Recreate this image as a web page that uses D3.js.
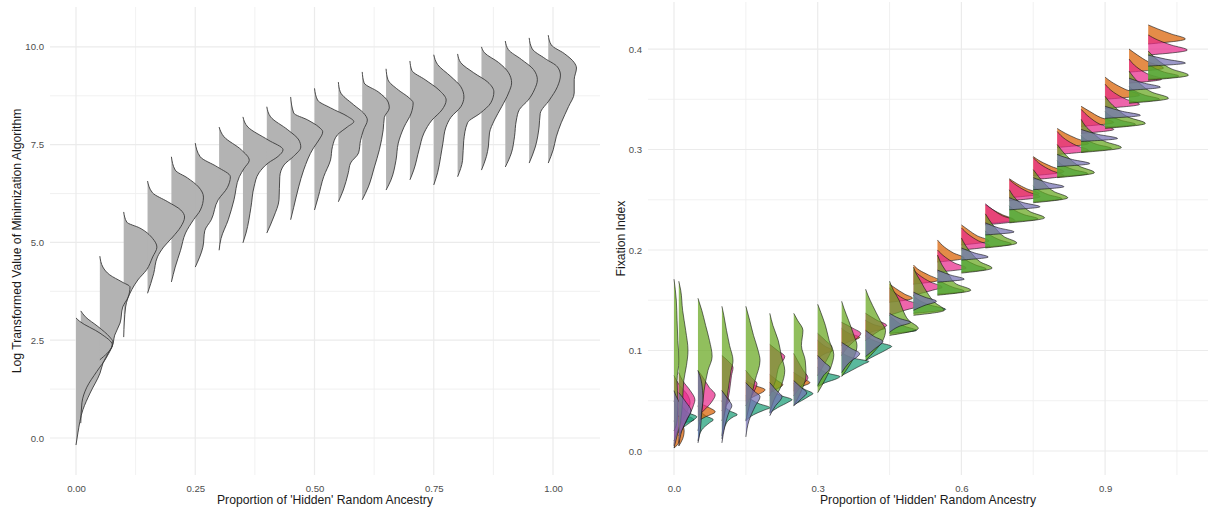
<!DOCTYPE html>
<html>
<head>
<meta charset="utf-8">
<script src="https://cdn.jsdelivr.net/npm/d3@7"></script>
<style>
body { margin: 0; background: #fff; }
text { font-family: "Liberation Sans", Arial, sans-serif; }
</style>
</head>
<body>
<script>

// proportion of 'hidden' random ancestry (shared by both panels)
var ancestry = [0, 0.01, 0.05, 0.10, 0.15, 0.20, 0.25, 0.30, 0.35, 0.40, 0.45,
                0.50, 0.55, 0.60, 0.65, 0.70, 0.75, 0.80, 0.85, 0.90, 0.95, 0.99];

// left panel: density profiles [log value, relative density]
var logProfiles = [
  [[-0.18,0],[0.13,0.05],[0.72,0.18],[1.15,0.37],[1.66,0.63],[1.92,0.71],[2.2,0.86],[2.38,0.95],[2.68,0.63],[2.98,0.1],[3.07,0]],
  [[0.38,0],[0.9,0.03],[1.3,0.16],[1.7,0.42],[2.07,0.68],[2.46,0.84],[2.58,0.76],[2.85,0.45],[3.1,0.12],[3.25,0]],
  [[2.0,0],[2.33,0.32],[2.63,0.39],[2.94,0.53],[3.35,0.6],[3.6,0.74],[3.86,0.79],[3.99,0.58],[4.17,0.26],[4.37,0.08],[4.65,0]],
  [[2.58,0],[3.35,0.05],[3.79,0.21],[4.04,0.37],[4.3,0.6],[4.63,0.76],[4.88,0.87],[5.1,0.76],[5.37,0.42],[5.52,0.08],[5.78,0]],
  [[3.7,0],[4.2,0.16],[4.63,0.26],[4.88,0.42],[5.14,0.66],[5.4,0.87],[5.65,0.97],[5.83,0.87],[6.04,0.53],[6.27,0.13],[6.57,0]],
  [[3.99,0],[4.37,0.1],[4.8,0.24],[5.24,0.37],[5.58,0.58],[5.83,0.76],[6.16,0.84],[6.42,0.71],[6.65,0.42],[6.85,0.1],[7.19,0]],
  [[4.37,0],[4.88,0.2],[5.3,0.25],[5.58,0.42],[6.09,0.6],[6.4,0.84],[6.68,0.92],[6.93,0.58],[7.19,0.13],[7.54,0]],
  [[4.8,0],[5.1,0.05],[5.58,0.24],[6.09,0.39],[6.68,0.53],[6.9,0.66],[7.1,0.79],[7.37,0.58],[7.7,0.13],[7.95,0]],
  [[4.99,0],[5.24,0.08],[5.9,0.21],[6.42,0.29],[6.78,0.42],[7.03,0.66],[7.2,0.92],[7.37,1.05],[7.62,0.66],[7.95,0.13],[8.21,0]],
  [[5.24,0],[5.65,0.18],[6.09,0.32],[6.68,0.34],[6.98,0.45],[7.2,0.7],[7.44,0.89],[7.62,0.84],[7.88,0.55],[8.21,0.1],[8.47,0]],
  [[5.58,0],[5.9,0.08],[6.42,0.21],[6.85,0.34],[7.42,0.6],[7.62,0.74],[7.83,0.84],[7.95,0.74],[8.13,0.45],[8.31,0.08],[8.72,0]],
  [[5.83,0],[6.17,0.1],[6.68,0.24],[7.11,0.42],[7.45,0.47],[7.75,0.6],[7.96,0.87],[8.09,1.03],[8.22,0.87],[8.44,0.42],[8.64,0.08],[8.94,0]],
  [[6.04,0],[6.34,0.13],[6.78,0.26],[7.03,0.32],[7.29,0.53],[7.6,0.58],[7.88,0.66],[8.13,0.76],[8.31,0.66],[8.52,0.4],[8.85,0.05],[9.1,0]],
  [[6.09,0],[6.42,0.16],[6.93,0.32],[7.37,0.45],[7.88,0.55],[8.2,0.58],[8.44,0.71],[8.59,0.68],[8.85,0.42],[9.08,0.05],[9.36,0]],
  [[6.34,0],[6.6,0.13],[7.1,0.26],[7.54,0.32],[7.95,0.47],[8.31,0.66],[8.57,0.71],[8.7,0.6],[8.9,0.32],[9.16,0.05],[9.44,0]],
  [[6.6,0],[6.85,0.1],[7.37,0.24],[7.8,0.37],[8.13,0.58],[8.39,0.84],[8.64,0.95],[8.9,0.76],[9.16,0.4],[9.4,0.05],[9.64,0]],
  [[6.47,0],[6.78,0.1],[7.19,0.18],[7.54,0.24],[7.95,0.32],[8.2,0.45],[8.47,0.71],[8.72,0.79],[8.98,0.71],[9.24,0.45],[9.55,0.1],[9.8,0]],
  [[6.68,0],[7.1,0.13],[7.6,0.16],[8.06,0.26],[8.31,0.6],[8.57,0.87],[8.85,0.95],[9.1,0.79],[9.34,0.42],[9.6,0.08],[9.82,0]],
  [[6.85,0],[7.2,0.13],[7.44,0.18],[7.8,0.21],[8.13,0.34],[8.47,0.53],[8.82,0.71],[9.08,0.79],[9.34,0.71],[9.6,0.45],[9.85,0.08],[10.0,0]],
  [[6.93,0],[7.29,0.16],[7.7,0.24],[8.13,0.29],[8.4,0.37],[8.64,0.6],[8.9,0.76],[9.16,0.84],[9.42,0.74],[9.68,0.42],[9.93,0.08],[10.15,0]],
  [[7.03,0],[7.44,0.16],[7.95,0.26],[8.3,0.29],[8.64,0.53],[8.98,0.74],[9.28,0.82],[9.49,0.74],[9.7,0.42],[9.95,0.08],[10.23,0]],
  [[7.03,0],[7.37,0.13],[7.7,0.21],[8.06,0.34],[8.47,0.53],[8.82,0.68],[9.16,0.68],[9.46,0.74],[9.6,0.68],[9.83,0.42],[10.05,0.08],[10.3,0]]
];

// right panel: fixation index profiles [Fst, relative density], one list per group
var fstOrange = [
  [[0.003,0],[0.008,0.12],[0.015,0.15],[0.022,0.1],[0.03,0]],
  [[0.005,0],[0.012,0.1],[0.02,0.14],[0.028,0.08],[0.035,0]],
  [[0.03,0],[0.034,0.2],[0.039,0.45],[0.043,0.3],[0.048,0]],
  [[0.04,0],[0.046,0.12],[0.05,0.2],[0.055,0.1],[0.06,0]],
  [[0.05,0],[0.054,0.2],[0.061,0.5],[0.065,0.25],[0.07,0]],
  [[0.058,0],[0.062,0.2],[0.066,0.34],[0.07,0.2],[0.076,0]],
  [[0.06,0],[0.064,0.2],[0.068,0.42],[0.072,0.25],[0.078,0]],
  [[0.092,0],[0.097,0.2],[0.1,0.39],[0.104,0.2],[0.11,0]],
  [[0.105,0],[0.109,0.2],[0.113,0.47],[0.117,0.2],[0.122,0]],
  [[0.115,0],[0.119,0.2],[0.122,0.5],[0.126,0.2],[0.13,0]],
  [[0.148,0],[0.152,0.6],[0.156,0.4],[0.162,0.15],[0.166,0]],
  [[0.166,0],[0.17,0.65],[0.175,0.4],[0.18,0.15],[0.185,0]],
  [[0.188,0],[0.192,0.7],[0.197,0.42],[0.203,0.18],[0.21,0]],
  [[0.205,0],[0.209,0.72],[0.214,0.42],[0.22,0.18],[0.225,0]],
  [[0.226,0],[0.23,0.75],[0.235,0.45],[0.24,0.2],[0.245,0]],
  [[0.252,0],[0.256,0.78],[0.261,0.45],[0.266,0.2],[0.271,0]],
  [[0.274,0],[0.278,0.8],[0.283,0.48],[0.288,0.2],[0.293,0]],
  [[0.302,0],[0.306,0.82],[0.311,0.5],[0.316,0.22],[0.321,0]],
  [[0.323,0],[0.327,0.85],[0.332,0.5],[0.338,0.22],[0.343,0]],
  [[0.35,0],[0.354,0.9],[0.36,0.52],[0.366,0.22],[0.372,0]],
  [[0.377,0],[0.381,0.9],[0.387,0.52],[0.394,0.22],[0.4,0]],
  [[0.405,0],[0.41,0.97],[0.415,0.6],[0.42,0.25],[0.424,0]]
];
var fstPink = [
  [[0.01,0],[0.025,0.15],[0.04,0.35],[0.048,0.42],[0.056,0.35],[0.065,0.15],[0.075,0]],
  [[0.015,0],[0.03,0.2],[0.045,0.38],[0.051,0.42],[0.06,0.3],[0.07,0.1],[0.078,0]],
  [[0.035,0],[0.042,0.2],[0.05,0.38],[0.056,0.45],[0.063,0.3],[0.075,0.1],[0.08,0]],
  [[0.03,0],[0.045,0.12],[0.06,0.2],[0.075,0.25],[0.083,0.29],[0.09,0.15],[0.095,0]],
  [[0.045,0],[0.055,0.15],[0.062,0.25],[0.067,0.29],[0.073,0.15],[0.08,0]],
  [[0.055,0],[0.07,0.15],[0.085,0.25],[0.094,0.39],[0.1,0.2],[0.106,0]],
  [[0.055,0],[0.065,0.2],[0.073,0.37],[0.08,0.25],[0.09,0.1],[0.097,0]],
  [[0.075,0],[0.085,0.15],[0.095,0.3],[0.103,0.37],[0.11,0.2],[0.117,0]],
  [[0.095,0],[0.105,0.2],[0.112,0.4],[0.117,0.5],[0.122,0.3],[0.128,0]],
  [[0.11,0],[0.117,0.25],[0.122,0.45],[0.125,0.55],[0.13,0.3],[0.137,0]],
  [[0.135,0],[0.14,0.4],[0.145,0.8],[0.15,0.45],[0.157,0.15],[0.162,0]],
  [[0.155,0],[0.16,0.5],[0.163,0.75],[0.168,0.45],[0.175,0.15],[0.18,0]],
  [[0.178,0],[0.182,0.75],[0.187,0.45],[0.193,0.2],[0.2,0]],
  [[0.2,0],[0.204,0.75],[0.209,0.45],[0.215,0.2],[0.222,0]],
  [[0.225,0],[0.229,0.78],[0.234,0.45],[0.24,0.2],[0.246,0]],
  [[0.249,0],[0.253,0.8],[0.258,0.48],[0.264,0.2],[0.27,0]],
  [[0.27,0],[0.274,0.8],[0.279,0.48],[0.285,0.2],[0.292,0]],
  [[0.295,0],[0.299,0.82],[0.304,0.5],[0.31,0.22],[0.318,0]],
  [[0.316,0],[0.32,0.85],[0.325,0.5],[0.332,0.22],[0.34,0]],
  [[0.341,0],[0.345,0.9],[0.35,0.55],[0.357,0.22],[0.365,0]],
  [[0.366,0],[0.37,0.85],[0.375,0.5],[0.382,0.2],[0.39,0]],
  [[0.394,0],[0.399,1.02],[0.404,0.6],[0.409,0.25],[0.414,0]]
];
var fstGreen = [
  [[0.02,0],[0.03,0.08],[0.05,0.1],[0.07,0.08],[0.09,0.13],[0.11,0.1],[0.13,0.08],[0.15,0.06],[0.171,0]],
  [[0.018,0],[0.03,0.05],[0.05,0.1],[0.07,0.13],[0.085,0.2],[0.1,0.24],[0.12,0.18],[0.14,0.1],[0.16,0.05],[0.169,0]],
  [[0.02,0],[0.04,0.1],[0.06,0.16],[0.08,0.26],[0.094,0.37],[0.11,0.3],[0.125,0.2],[0.14,0.1],[0.152,0]],
  [[0.015,0],[0.04,0.08],[0.06,0.16],[0.08,0.24],[0.09,0.29],[0.105,0.2],[0.12,0.12],[0.135,0.05],[0.144,0]],
  [[0.03,0],[0.05,0.12],[0.07,0.24],[0.09,0.37],[0.1,0.32],[0.115,0.2],[0.13,0.1],[0.144,0]],
  [[0.038,0],[0.05,0.1],[0.065,0.3],[0.08,0.39],[0.095,0.3],[0.11,0.22],[0.125,0.08],[0.137,0]],
  [[0.045,0],[0.06,0.2],[0.075,0.32],[0.09,0.3],[0.105,0.2],[0.12,0.24],[0.13,0.1],[0.137,0]],
  [[0.058,0],[0.07,0.18],[0.085,0.36],[0.096,0.42],[0.11,0.3],[0.125,0.2],[0.138,0.08],[0.146,0]],
  [[0.074,0],[0.085,0.2],[0.095,0.34],[0.105,0.4],[0.115,0.32],[0.13,0.18],[0.142,0.06],[0.149,0]],
  [[0.09,0],[0.1,0.25],[0.11,0.45],[0.12,0.52],[0.13,0.38],[0.145,0.18],[0.155,0.06],[0.161,0]],
  [[0.115,0],[0.122,0.75],[0.13,0.5],[0.14,0.35],[0.15,0.25],[0.16,0.1],[0.169,0]],
  [[0.135,0],[0.14,0.8],[0.148,0.55],[0.158,0.35],[0.168,0.2],[0.178,0.05],[0.183,0]],
  [[0.155,0],[0.16,0.87],[0.166,0.5],[0.175,0.3],[0.185,0.12],[0.195,0]],
  [[0.177,0],[0.182,0.8],[0.188,0.5],[0.196,0.28],[0.205,0.1],[0.212,0]],
  [[0.202,0],[0.207,0.82],[0.213,0.5],[0.221,0.28],[0.23,0.1],[0.236,0]],
  [[0.227,0],[0.232,0.92],[0.238,0.55],[0.246,0.3],[0.254,0.1],[0.26,0]],
  [[0.247,0],[0.252,0.9],[0.258,0.55],[0.266,0.3],[0.275,0.1],[0.28,0]],
  [[0.272,0],[0.277,0.97],[0.283,0.6],[0.291,0.32],[0.3,0.1],[0.305,0]],
  [[0.297,0],[0.302,1.05],[0.308,0.62],[0.316,0.32],[0.324,0.1],[0.33,0]],
  [[0.321,0],[0.326,1.05],[0.332,0.62],[0.34,0.32],[0.348,0.1],[0.353,0]],
  [[0.346,0],[0.351,1.03],[0.357,0.6],[0.365,0.3],[0.373,0.1],[0.378,0]],
  [[0.369,0],[0.374,1.05],[0.38,0.62],[0.387,0.32],[0.394,0.1],[0.398,0]]
];
var fstPurple = [
  [[0.003,0],[0.015,0.08],[0.03,0.2],[0.038,0.32],[0.045,0.2],[0.055,0.05],[0.06,0]],
  [[0.005,0],[0.02,0.08],[0.032,0.22],[0.04,0.32],[0.048,0.2],[0.058,0]],
  [[0.008,0],[0.02,0.06],[0.04,0.1],[0.05,0.13],[0.06,0.12],[0.075,0.05],[0.08,0]],
  [[0.008,0],[0.025,0.08],[0.04,0.2],[0.045,0.26],[0.052,0.15],[0.06,0]],
  [[0.014,0],[0.03,0.08],[0.045,0.25],[0.054,0.37],[0.06,0.2],[0.068,0]],
  [[0.035,0],[0.045,0.15],[0.052,0.3],[0.054,0.32],[0.06,0.18],[0.068,0]],
  [[0.045,0],[0.052,0.2],[0.058,0.34],[0.063,0.2],[0.07,0]],
  [[0.065,0],[0.075,0.15],[0.083,0.32],[0.088,0.18],[0.095,0]],
  [[0.078,0],[0.088,0.2],[0.097,0.47],[0.102,0.25],[0.108,0]],
  [[0.094,0],[0.102,0.25],[0.109,0.45],[0.114,0.22],[0.12,0]],
  [[0.118,0],[0.124,0.25],[0.128,0.55],[0.132,0.25],[0.137,0]],
  [[0.14,0],[0.145,0.3],[0.149,0.6],[0.153,0.3],[0.158,0]],
  [[0.168,0],[0.171,0.7],[0.175,0.35],[0.18,0]],
  [[0.19,0],[0.193,0.7],[0.197,0.35],[0.202,0]],
  [[0.215,0],[0.218,0.75],[0.222,0.35],[0.227,0]],
  [[0.24,0],[0.243,0.8],[0.247,0.38],[0.252,0]],
  [[0.26,0],[0.263,0.8],[0.267,0.38],[0.272,0]],
  [[0.283,0],[0.286,0.85],[0.29,0.4],[0.295,0]],
  [[0.308,0],[0.311,0.95],[0.315,0.45],[0.32,0]],
  [[0.331,0],[0.334,0.92],[0.338,0.45],[0.343,0]],
  [[0.359,0],[0.362,0.82],[0.366,0.4],[0.371,0]],
  [[0.383,0],[0.386,0.97],[0.39,0.45],[0.394,0]]
];
var fstTeal = [
  [[0.005,0],[0.02,0.05],[0.028,0.3],[0.031,0.52],[0.036,0.3],[0.045,0.05],[0.05,0]],
  [[0.008,0],[0.02,0.05],[0.03,0.35],[0.034,0.47],[0.038,0.25],[0.05,0]],
  [[0.01,0],[0.021,0.1],[0.028,0.3],[0.031,0.4],[0.035,0.2],[0.045,0]],
  [[0.012,0],[0.028,0.12],[0.034,0.3],[0.036,0.4],[0.04,0.2],[0.05,0]],
  [[0.03,0],[0.036,0.2],[0.041,0.5],[0.043,0.63],[0.047,0.35],[0.055,0]],
  [[0.038,0],[0.043,0.2],[0.049,0.5],[0.051,0.58],[0.055,0.3],[0.062,0]],
  [[0.046,0],[0.05,0.2],[0.055,0.42],[0.057,0.5],[0.061,0.3],[0.067,0]],
  [[0.064,0],[0.068,0.2],[0.072,0.5],[0.074,0.58],[0.077,0.3],[0.083,0]],
  [[0.075,0],[0.08,0.25],[0.087,0.6],[0.089,0.71],[0.092,0.35],[0.098,0]],
  [[0.09,0],[0.095,0.25],[0.102,0.6],[0.104,0.68],[0.108,0.35],[0.114,0]],
  [[0.117,0],[0.12,0.7],[0.124,0.4],[0.13,0.15],[0.135,0]],
  [[0.137,0],[0.141,0.84],[0.145,0.45],[0.15,0.15],[0.155,0]],
  [[0.156,0],[0.159,0.7],[0.163,0.4],[0.168,0.12],[0.172,0]],
  [[0.178,0],[0.181,0.65],[0.185,0.38],[0.19,0.12],[0.194,0]],
  [[0.203,0],[0.206,0.68],[0.21,0.38],[0.215,0.12],[0.219,0]],
  [[0.228,0],[0.231,0.75],[0.235,0.4],[0.24,0.12],[0.244,0]],
  [[0.248,0],[0.251,0.75],[0.255,0.4],[0.26,0.12],[0.264,0]],
  [[0.273,0],[0.276,0.8],[0.28,0.42],[0.285,0.12],[0.289,0]],
  [[0.298,0],[0.301,0.8],[0.305,0.42],[0.31,0.12],[0.314,0]],
  [[0.322,0],[0.325,0.8],[0.329,0.42],[0.334,0.12],[0.338,0]],
  [[0.347,0],[0.35,0.8],[0.354,0.42],[0.359,0.12],[0.363,0]],
  [[0.37,0],[0.373,0.8],[0.377,0.42],[0.382,0.12],[0.386,0]]
];

// draw order and colours of the right-hand groups
var groups = [
  {values: fstTeal,   color: "#1B9E77"},
  {values: fstOrange, color: "#D95F02"},
  {values: fstPink,   color: "#E7298A"},
  {values: fstGreen,  color: "#66A61E"},
  {values: fstPurple, color: "#7570B3"}
];

var leftXTicks = [0, 0.25, 0.5, 0.75, 1],
    leftXMinor = [0.125, 0.375, 0.625, 0.875],
    leftYTicks = [0, 2.5, 5, 7.5, 10],
    leftYMinor = [1.25, 3.75, 6.25, 8.75];
var rightXTicks = [0, 0.3, 0.6, 0.9],
    rightXMinor = [0.15, 0.45, 0.75, 1.05],
    rightYTicks = [0, 0.1, 0.2, 0.3, 0.4],
    rightYMinor = [0.05, 0.15, 0.25, 0.35];

var xTitle = "Proportion of 'Hidden' Random Ancestry";

var width = 1217,
    height = 515;

var svg = d3.select("body").append("svg")
    .attr("width", width)
    .attr("height", height);

// half-width of a density of 1, in x units
var dens = d3.scaleLinear().domain([0, 1]).range([0, 0.08]);

function drawGrid(g, x, y, xMaj, xMin, yMaj, yMin) {
  var xr = x.range(), yr = y.range();
  g.selectAll(".hmin").data(yMin).enter().append("line")
      .attr("x1", xr[0]).attr("x2", xr[1])
      .attr("y1", function(d) { return y(d); }).attr("y2", function(d) { return y(d); })
      .attr("stroke", "#efefef").attr("stroke-width", 0.9);
  g.selectAll(".vmin").data(xMin).enter().append("line")
      .attr("y1", yr[0]).attr("y2", yr[1])
      .attr("x1", function(d) { return x(d); }).attr("x2", function(d) { return x(d); })
      .attr("stroke", "#efefef").attr("stroke-width", 0.9);
  g.selectAll(".hmaj").data(yMaj).enter().append("line")
      .attr("x1", xr[0]).attr("x2", xr[1])
      .attr("y1", function(d) { return y(d); }).attr("y2", function(d) { return y(d); })
      .attr("stroke", "#ebebeb").attr("stroke-width", 1.2);
  g.selectAll(".vmaj").data(xMaj).enter().append("line")
      .attr("y1", yr[0]).attr("y2", yr[1])
      .attr("x1", function(d) { return x(d); }).attr("x2", function(d) { return x(d); })
      .attr("stroke", "#ebebeb").attr("stroke-width", 1.2);
}

function drawAxes(g, x, y, xTicks, yTicks, xFmt, yFmt, yTitle, yTitleX) {
  var xr = x.range(), yr = y.range();
  var ax = g.append("g")
      .attr("transform", "translate(0," + yr[0] + ")")
      .call(d3.axisBottom(x).tickValues(xTicks).tickFormat(d3.format(xFmt)).tickSize(0).tickPadding(10));
  var ay = g.append("g")
      .attr("transform", "translate(" + xr[0] + ",0)")
      .call(d3.axisLeft(y).tickValues(yTicks).tickFormat(d3.format(yFmt)).tickSize(0).tickPadding(6));
  [ax, ay].forEach(function(a) {
    a.select(".domain").remove();
    a.selectAll("text").attr("fill", "#4d4d4d").style("font-size", "9.6px")
        .style("font-family", "'Liberation Sans', Arial, sans-serif");
  });
  g.append("text")
      .attr("x", (xr[0] + xr[1]) / 2).attr("y", 504)
      .attr("text-anchor", "middle").attr("fill", "#1a1a1a")
      .style("font-size", "12.2px")
      .text(xTitle);
  g.append("text")
      .attr("transform", "translate(" + yTitleX + "," + ((yr[0] + yr[1]) / 2) + ")rotate(-90)")
      .attr("text-anchor", "middle").attr("fill", "#1a1a1a")
      .style("font-size", "12.2px")
      .text(yTitle);
}

function slabFill(g, x, y, base, prof, fill, fillOp) {
  var pts = prof.slice().sort(function(a, b) { return b[0] - a[0]; });
  var area = d3.area().curve(d3.curveMonotoneY)
      .y(function(d) { return y(d[0]); })
      .x0(x(base))
      .x1(function(d) { return x(base + dens(d[1])); });
  g.append("path").attr("d", area(pts))
      .attr("fill", fill).attr("fill-opacity", fillOp).attr("stroke", "none");
}

function slabLine(g, x, y, base, prof, stroke, sw) {
  var pts = prof.slice().sort(function(a, b) { return b[0] - a[0]; });
  var line = d3.line().curve(d3.curveMonotoneY)
      .y(function(d) { return y(d[0]); })
      .x(function(d) { return x(base + dens(d[1])); });
  g.append("path").attr("d", line(pts))
      .attr("fill", "none").attr("stroke", stroke).attr("stroke-width", sw);
}

// ---- left panel
var xL = d3.scaleLinear().domain([-0.0545, 1.0985]).range([50, 600]);
var yL = d3.scaleLinear().domain([-0.946, 11.02]).range([475, 7]);
var gL = svg.append("g");
drawGrid(gL, xL, yL, leftXTicks, leftXMinor, leftYTicks, leftYMinor);
drawAxes(gL, xL, yL, leftXTicks, leftYTicks, ".2f", ".1f",
    "Log Transformed Value of Minimization Algorithm", 20.5);
// fills first, outlines on top
logProfiles.forEach(function(p, i) {
  slabFill(gL, xL, yL, ancestry[i], p, "#b3b3b3", 1);
});
logProfiles.forEach(function(p, i) {
  slabLine(gL, xL, yL, ancestry[i], p, "#3a3a3a", 0.9);
});

// ---- right panel
var xR = d3.scaleLinear().domain([-0.0543, 1.1148]).range([648, 1208]);
var yR = d3.scaleLinear().domain([-0.0239, 0.4468]).range([475, 2]);
var gR = svg.append("g");
drawGrid(gR, xR, yR, rightXTicks, rightXMinor, rightYTicks, rightYMinor);
drawAxes(gR, xR, yR, rightXTicks, rightYTicks, ".1f", ".1f", "Fixation Index", 624.5);
ancestry.forEach(function(a, i) {
  groups.forEach(function(grp) {
    slabFill(gR, xR, yR, a, grp.values[i], grp.color, 0.72);
    slabLine(gR, xR, yR, a, grp.values[i], "#111", 0.6);
  });
});

</script>
</body>
</html>
